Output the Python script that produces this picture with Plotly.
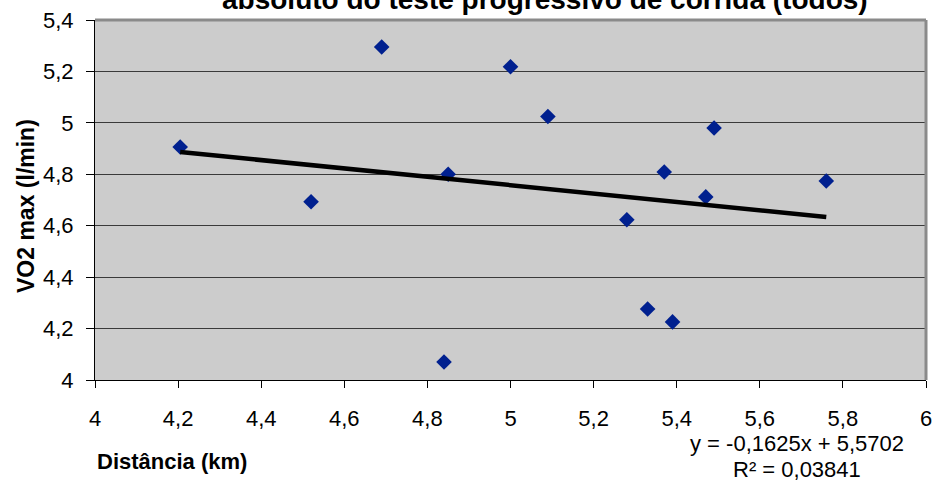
import plotly.graph_objects as go

# distancia (km) e VO2 max (l/min)
distancia = [4.205, 4.52, 4.69, 4.84, 4.85, 5.0, 5.09, 5.28, 5.33, 5.39, 5.37, 5.49, 5.47, 5.76]
vo2max = [4.906, 4.693, 5.295, 4.07, 4.80, 5.218, 5.025, 4.623, 4.276, 4.226, 4.809, 4.98, 4.712, 4.774]

# linha de tendencia (equacao do Excel)
slope = -0.1625
intercept = 5.5702
r2 = "0,03841"

x_ticks = [4, 4.2, 4.4, 4.6, 4.8, 5, 5.2, 5.4, 5.6, 5.8, 6]
y_ticks = [4, 4.2, 4.4, 4.6, 4.8, 5, 5.2, 5.4]

font = "Liberation Sans, Arial"

trend_x = [min(distancia), max(distancia)]
trend_y = [slope * v + intercept for v in trend_x]

fig = go.Figure()
fig.add_trace(go.Scatter(x=distancia, y=vo2max, mode="markers",
                         marker=dict(symbol="diamond", size=12, color="#00208f"),
                         showlegend=False))
fig.add_trace(go.Scatter(x=trend_x, y=trend_y, mode="lines",
                         line=dict(color="black", width=4.5),
                         showlegend=False))

fig.update_layout(
    width=936, height=483,
    margin=dict(l=95, r=10, t=20, b=103),
    paper_bgcolor="white",
    plot_bgcolor="#cccccc",
    separators=",.",
    font=dict(family=font, size=22, color="black"),
    xaxis=dict(range=[4, 6], tickvals=x_ticks, showgrid=False, zeroline=False,
               showline=True, linecolor="black", linewidth=1,
               ticks="outside", ticklen=7, tickcolor="black",
               ticklabelstandoff=12, automargin=False),
    yaxis=dict(range=[4, 5.4], tickvals=y_ticks, showgrid=True, gridcolor="#3a3a3a",
               gridwidth=1, zeroline=False, showline=True, linecolor="black", linewidth=1,
               ticks="outside", ticklen=8, tickcolor="black", ticklabelstandoff=8,
               automargin=False),
    shapes=[
        dict(type="line", xref="paper", yref="paper", x0=0, x1=1, y0=1, y1=1,
             line=dict(color="#8a8a8a", width=3)),
        dict(type="line", xref="paper", yref="paper", x0=1, x1=1, y0=0, y1=1,
             line=dict(color="#8a8a8a", width=3)),
    ],
    annotations=[
        dict(text="<b>absoluto do teste progressivo de corrida (todos)</b>",
             xref="paper", yref="paper", x=0.541, y=1, yshift=3, xanchor="center", yanchor="bottom",
             showarrow=False, font=dict(size=28)),
        dict(text="<b>VO2 max (l/min)</b>", textangle=-90,
             xref="paper", yref="paper", x=0, xshift=-69, y=0.5, yshift=-6,
             xanchor="center", yanchor="middle",
             showarrow=False, font=dict(size=23)),
        dict(text="<b>Distância (km)</b>",
             xref="paper", yref="paper", x=0, xshift=0, y=0, yshift=-81, xanchor="left", yanchor="middle",
             showarrow=False, font=dict(size=22)),
        dict(text=f"y = {slope:.4f}x + {intercept:.4f}".replace(".", ","),
             xref="paper", yref="paper", x=0.845, y=0, yshift=-63, xanchor="center", yanchor="middle",
             showarrow=False, font=dict(size=22)),
        dict(text=f"R² = {r2}",
             xref="paper", yref="paper", x=0.845, y=0, yshift=-89, xanchor="center", yanchor="middle",
             showarrow=False, font=dict(size=22)),
    ],
)

# sem margem do body, para a figura comecar no canto da pagina
fig.write_html("out.html", config={"displayModeBar": False},
               post_script="document.body.style.margin='0';")
